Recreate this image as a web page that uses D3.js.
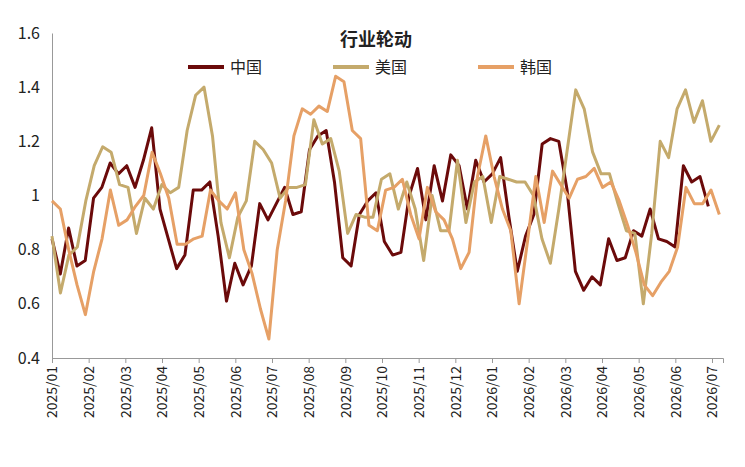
<!DOCTYPE html>
<html><head><meta charset="utf-8">
<script src="https://cdn.jsdelivr.net/npm/d3@7"></script>
<style>body{margin:0;background:#fff}</style></head>
<body><svg id="c" width="745" height="467"></svg>
<script>
const months=["2025/01","2025/02","2025/03","2025/04","2025/05","2025/06","2025/07","2025/08","2025/09","2025/10","2025/11","2025/12","2026/01","2026/02","2026/03","2026/04","2026/05","2026/06","2026/07"];
const yTicks=[0.4,0.6,0.8,1,1.2,1.4,1.6];
const china=[0.84,0.71,0.88,0.74,0.76,0.99,1.03,1.12,1.08,1.11,1.03,1.13,1.25,0.95,0.84,0.73,0.78,1.02,1.02,1.05,0.85,0.61,0.75,0.67,0.74,0.97,0.91,0.97,1.03,0.93,0.94,1.17,1.22,1.24,1.05,0.77,0.74,0.93,0.98,1.01,0.83,0.78,0.79,1.0,1.10,0.91,1.11,0.98,1.15,1.11,0.95,1.13,1.05,1.08,1.14,0.92,0.72,0.85,0.93,1.19,1.21,1.20,1.02,0.72,0.65,0.7,0.67,0.84,0.76,0.77,0.87,0.85,0.95,0.84,0.83,0.81,1.11,1.05,1.07,0.96];
const usa=[0.85,0.64,0.78,0.81,0.98,1.11,1.18,1.16,1.04,1.03,0.86,0.99,0.95,1.04,1.01,1.03,1.24,1.37,1.4,1.22,0.9,0.77,0.92,0.98,1.2,1.17,1.12,0.99,1.03,1.03,1.04,1.28,1.19,1.21,1.09,0.86,0.93,0.92,0.92,1.06,1.08,0.95,1.05,0.95,0.76,1.0,0.87,0.87,1.13,0.9,1.05,1.07,0.9,1.07,1.06,1.05,1.05,1.0,0.84,0.75,0.95,1.17,1.39,1.32,1.16,1.08,1.08,0.97,0.87,0.86,0.6,0.86,1.2,1.14,1.32,1.39,1.27,1.35,1.2,1.26];
const korea=[0.98,0.95,0.8,0.67,0.56,0.72,0.84,1.02,0.89,0.91,0.96,1.0,1.16,1.08,0.99,0.82,0.82,0.84,0.85,1.02,0.98,0.95,1.01,0.8,0.71,0.58,0.47,0.8,0.98,1.22,1.32,1.3,1.33,1.31,1.44,1.42,1.24,1.21,0.89,0.87,1.02,1.03,1.06,0.93,0.84,1.03,0.94,0.91,0.84,0.73,0.79,1.07,1.22,1.07,0.95,0.87,0.6,0.83,1.07,0.9,1.09,1.04,0.99,1.06,1.07,1.1,1.03,1.05,0.98,0.89,0.79,0.67,0.63,0.68,0.72,0.81,1.03,0.97,0.97,1.02,0.93];
const series=[{name:"中国",data:china,color:"#6b0a0a",end:17.9},{name:"美国",data:usa,color:"#c4aa6c",end:18.2},{name:"韩国",data:korea,color:"#e6a066",end:18.2}];

const svg=d3.select("#c");
const x=d3.scaleLinear().domain([0,18.3]).range([52,723]);
const y=d3.scaleLinear().domain([0.4,1.6]).range([358,33]);
const font="'Noto Sans CJK SC','Noto Sans',sans-serif";

const ya=svg.append("g").attr("transform","translate(52,0)").call(d3.axisLeft(y).tickValues(yTicks).tickFormat(d3.format("~g")).tickSize(0).tickPadding(12));
ya.select(".domain").attr("stroke","#999");
ya.selectAll("text").attr("font-size",16).attr("font-family",font).attr("fill","#222");
const xa=svg.append("g").attr("transform","translate(0,358)").call(d3.axisBottom(x).tickValues(d3.range(months.length)).tickFormat(i=>months[i]).tickSize(5));
xa.select(".domain").attr("stroke","#999");
xa.selectAll("line").attr("stroke","#999");
xa.selectAll("text").attr("font-size",14).attr("font-family",font).attr("fill","#222")
  .attr("transform","rotate(-90)").attr("text-anchor","end").attr("x",-8).attr("y",0).attr("dy","0.35em");

const line=d3.line().x(d=>x(d.t)).y(d=>y(d.v));
series.forEach(s=>{
  const n=s.data.length;
  const pts=s.data.map((v,i)=>({t:i*s.end/(n-1),v}));
  svg.append("path").datum(pts).attr("d",line).attr("fill","none").attr("stroke",s.color).attr("stroke-width",3).attr("stroke-linejoin","round");
});

svg.append("text").attr("x",376).attr("y",46).attr("text-anchor","middle").attr("font-size",18).attr("font-weight","bold").attr("font-family",font).attr("fill","#222").text("行业轮动");
const lx=[188,333,478];
series.forEach((s,i)=>{
  const g=svg.append("g").attr("transform",`translate(${lx[i]},67)`);
  g.append("line").attr("x1",0).attr("x2",36).attr("stroke",s.color).attr("stroke-width",4);
  g.append("text").attr("x",42).attr("y",6).attr("font-size",16).attr("font-family",font).attr("fill","#222").text(s.name);
});
</script></body></html>
